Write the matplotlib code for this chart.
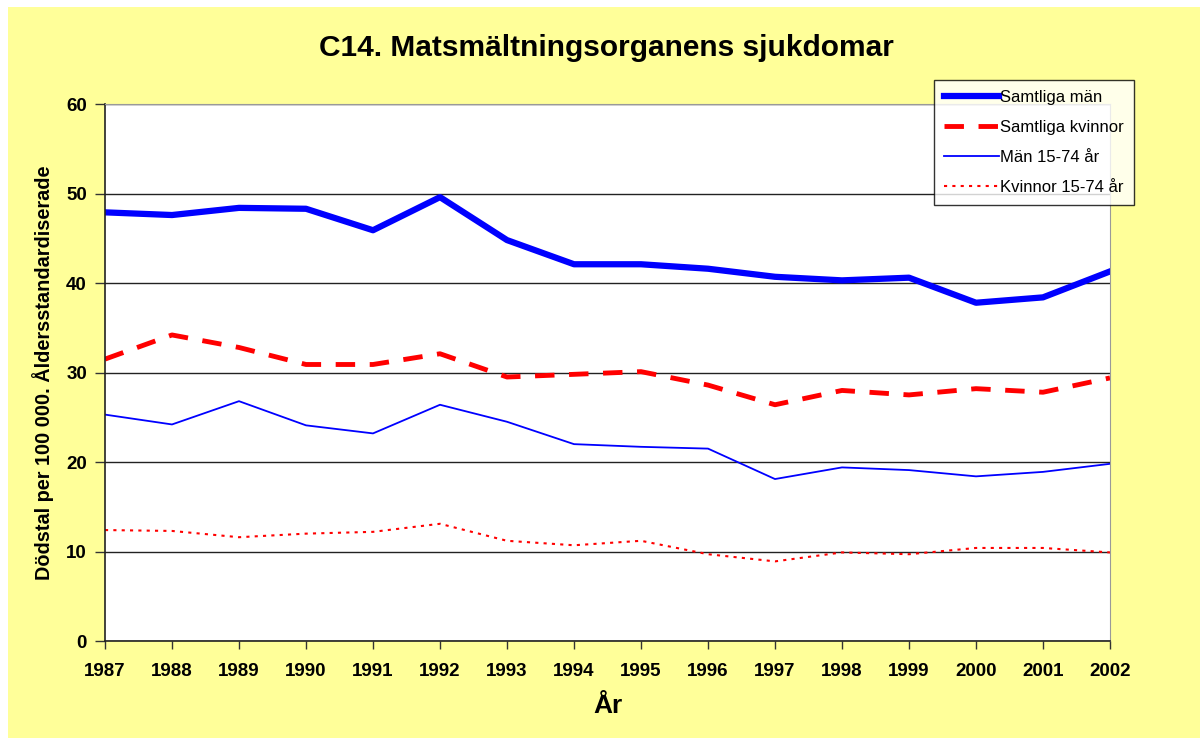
import matplotlib.pyplot as plt

plt.rcParams['font.family'] = ['Liberation Sans', 'DejaVu Sans']

years = list(range(1987, 2003))
man_alla = [47.9, 47.6, 48.4, 48.3, 45.9, 49.6, 44.8, 42.1, 42.1, 41.6, 40.7, 40.3, 40.6, 37.8, 38.4, 41.3]
kvinnor_alla = [31.5, 34.2, 32.8, 30.9, 30.9, 32.1, 29.5, 29.8, 30.1, 28.6, 26.4, 28.0, 27.5, 28.2, 27.8, 29.4]
man_1574 = [25.3, 24.2, 26.8, 24.1, 23.2, 26.4, 24.5, 22.0, 21.7, 21.5, 18.1, 19.4, 19.1, 18.4, 18.9, 19.8]
kvinnor_1574 = [12.4, 12.3, 11.6, 12.0, 12.2, 13.1, 11.2, 10.7, 11.2, 9.7, 8.9, 9.9, 9.7, 10.4, 10.4, 9.9]

fig = plt.figure(figsize=(12, 7.38), dpi=100)
fig.patch.set_facecolor('white')
# yellow chart area
bg = plt.Rectangle((0.0067, 0.0), 1.0, 0.9905, transform=fig.transFigure,
                   facecolor='#FFFF99', edgecolor='none', zorder=-10)
fig.patches.append(bg)

ax = fig.add_axes([0.0875, 0.1314, 0.8375, 0.7276])
ax.set_facecolor('white')

ax.plot(years, man_alla, color='#0000FF', lw=4.5, label='Samtliga män')
ax.plot(years, kvinnor_alla, color='#FF0000', lw=3.5, ls=(0, (4, 3)), label='Samtliga kvinnor')
ax.plot(years, man_1574, color='#0000FF', lw=1.3, label='Män 15-74 år')
ax.plot(years, kvinnor_1574, color='#FF0000', lw=1.5, ls=(0, (1.5, 2.5)), label='Kvinnor 15-74 år')

ax.set_xlim(1987, 2002)
ax.set_ylim(0, 60)
ax.set_xticks(years)
ax.set_yticks(range(0, 61, 10))
ax.grid(axis='y', color='#222222', lw=1)
ax.set_axisbelow(True)
for lbl in ax.get_xticklabels() + ax.get_yticklabels():
    lbl.set_fontweight('bold')
    lbl.set_fontsize(13.5)
ax.tick_params(axis='x', direction='out', length=6, width=1, color='#333333', pad=10)
ax.tick_params(axis='y', direction='out', length=7, width=1, color='#333333', pad=6)
for s in ['top', 'right']:
    ax.spines[s].set_color('#999999')
for s in ['left', 'bottom']:
    ax.spines[s].set_color('#222222')
    ax.spines[s].set_linewidth(1.2)

ax.set_xlabel('År', fontsize=19, fontweight='bold', labelpad=10)
ax.set_ylabel('Dödstal per 100 000. Åldersstandardiserade', fontsize=14.3, fontweight='bold', labelpad=9)
fig.text(0.505, 0.935, 'C14. Matsmältningsorganens sjukdomar', ha='center', va='center',
         fontsize=21.5, fontweight='bold')

leg = ax.legend(loc='upper left', bbox_to_anchor=(0.825, 1.045), fontsize=12, frameon=True,
                fancybox=False, edgecolor='black', handlelength=3.3, handletextpad=0.05,
                labelspacing=0.9, borderpad=0.6, borderaxespad=0)
leg.get_frame().set_linewidth(1)

fig.savefig('out.png', dpi=100)
